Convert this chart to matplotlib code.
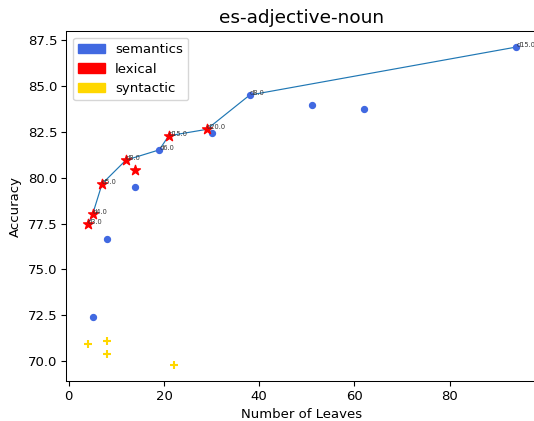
import matplotlib
matplotlib.use("Agg")
import matplotlib.pyplot as plt
import matplotlib.patches as mpatches

# Pareto-front line points
front_x = [4, 5, 7, 12, 19, 21, 29, 38, 94]
front_y = [77.45, 78.00, 79.67, 80.96, 81.52, 82.29, 82.64, 84.51, 87.13]
front_labels = ["d3.0", "d4.0", "d5.0", "d8.0", "d6.0", "d15.0", "d20.0", "d8.0", "d15.0"]
front_kind = ["lexical", "lexical", "lexical", "lexical", "semantics", "lexical", "lexical", "semantics", "semantics"]

# Other (non-front) points
sem_x = [30, 14, 8, 51, 62, 5]
sem_y = [82.45, 79.47, 76.67, 83.95, 83.76, 72.39]
lex_x = [14]
lex_y = [80.42]
syn_x = [4, 8, 8, 22]
syn_y = [70.91, 71.07, 70.36, 69.78]

colors = {"semantics": "royalblue", "lexical": "red", "syntactic": "gold"}

fs = 9.5
plt.rcParams["xtick.major.size"] = 3.3
plt.rcParams["ytick.major.size"] = 3.3
plt.rcParams["xtick.major.pad"] = 3.3
plt.rcParams["ytick.major.pad"] = 3.3
plt.rcParams["axes.linewidth"] = 0.75

fig = plt.figure(figsize=(5.34, 4.21), dpi=100)
ax = fig.add_axes([66.4 / 534, 40 / 421, 471.3 / 534, 349.9 / 421])

ax.plot(front_x, front_y, color="#1f77b4", linewidth=0.85, zorder=1)

ax.scatter(sem_x, sem_y, color=colors["semantics"], s=18, zorder=2)
ax.scatter(lex_x, lex_y, color=colors["lexical"], marker="*", s=55, zorder=2)
ax.scatter(syn_x, syn_y, color=colors["syntactic"], marker="+", s=40, zorder=2)

for x, y, k in zip(front_x, front_y, front_kind):
    if k == "lexical":
        ax.scatter([x], [y], color=colors[k], marker="*", s=55, zorder=3)
    else:
        ax.scatter([x], [y], color=colors[k], s=18, zorder=3)

for x, y, t in zip(front_x, front_y, front_labels):
    ax.annotate(t, (x, y), fontsize=4.75, color="#333333", zorder=4)

ax.set_xlim(-0.5, 98.5)
ax.set_ylim(68.91, 88.0)
ax.set_xticks([0, 20, 40, 60, 80])
ax.set_yticks([70.0, 72.5, 75.0, 77.5, 80.0, 82.5, 85.0, 87.5])
ax.set_yticklabels(["70.0", "72.5", "75.0", "77.5", "80.0", "82.5", "85.0", "87.5"])
ax.tick_params(labelsize=fs)
ax.set_xlabel("Number of Leaves", fontsize=fs, labelpad=3.8)
ax.set_ylabel("Accuracy", fontsize=fs, labelpad=3.8)
ax.set_title("es-adjective-noun", fontsize=13.3, pad=5.7)

handles = [mpatches.Patch(color=colors[k], label=k) for k in ["semantics", "lexical", "syntactic"]]
ax.legend(handles=handles, loc="upper left", fontsize=fs)

fig.savefig("out.png", dpi=100)
